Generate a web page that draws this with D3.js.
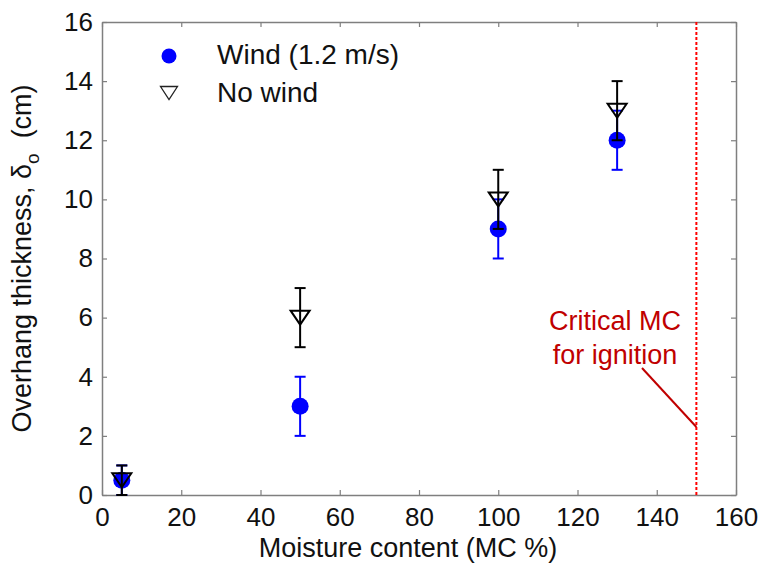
<!DOCTYPE html>
<html>
<head>
<meta charset="utf-8">
<script src="https://cdn.jsdelivr.net/npm/d3@7"></script>
<style>
  html, body { margin: 0; padding: 0; background: #fff; }
  svg { display: block; font-family: "Liberation Sans", Arial, sans-serif; }
</style>
</head>
<body>
<svg id="chart" width="761" height="568"></svg>
<script>
// Moisture content (%) at which each overhang thickness was measured
const moisture = [5, 50, 100, 130];

// Overhang thickness (cm) with wind at 1.2 m/s, and its error half-width
const windThickness = [0.5, 3, 9, 12];
const windError = [0.5, 1, 1, 1];

// Overhang thickness (cm) without wind, and its error half-width
const noWindThickness = [0.5, 6, 10, 13];
const noWindError = [0.5, 1, 1, 1];

// Critical moisture content for ignition
const criticalMC = 150;

const xTicks = [0, 20, 40, 60, 80, 100, 120, 140, 160];
const yTicks = [0, 2, 4, 6, 8, 10, 12, 14, 16];

const svg = d3.select("#chart");
const margin = { left: 102, top: 22, right: 25, bottom: 73 };
const W = 761, H = 568;
const x = d3.scaleLinear().domain([0, 160]).range([margin.left, W - margin.right]);
const y = d3.scaleLinear().domain([0, 16]).range([H - margin.bottom, margin.top]);

const axisColor = "#7f7f7f";
const tickFont = 26;

// Axes: ticks point inward on all four sides
const bottomAxis = d3.axisBottom(x).tickValues(xTicks).tickSizeInner(-5).tickSizeOuter(0).tickPadding(13);
const leftAxis = d3.axisLeft(y).tickValues(yTicks).tickSizeInner(-5).tickSizeOuter(0).tickPadding(9);
const topAxis = d3.axisTop(x).tickValues(xTicks).tickSizeInner(-5).tickSizeOuter(0).tickFormat("");
const rightAxis = d3.axisRight(y).tickValues(yTicks).tickSizeInner(-5).tickSizeOuter(0).tickFormat("");

function styleAxis(g) {
  g.selectAll("path.domain").attr("stroke", axisColor).attr("stroke-width", 1.5);
  g.selectAll(".tick line").attr("stroke", axisColor).attr("stroke-width", 1.2);
  g.selectAll(".tick text").attr("fill", "#111").style("font-size", tickFont + "px")
    .style("font-family", "'Liberation Sans', Arial, sans-serif");
}

svg.append("g").attr("transform", `translate(0,${y(0)})`).call(bottomAxis).call(styleAxis);
svg.append("g").attr("transform", `translate(${x(0)},0)`).call(leftAxis).call(styleAxis);
svg.append("g").attr("transform", `translate(0,${y(16)})`).call(topAxis).call(styleAxis);
svg.append("g").attr("transform", `translate(${x(160)},0)`).call(rightAxis).call(styleAxis);

// Critical moisture content marker
svg.append("line")
  .attr("x1", x(criticalMC)).attr("x2", x(criticalMC))
  .attr("y1", y(16)).attr("y2", y(0))
  .attr("stroke", "#ff0000").attr("stroke-width", 2)
  .attr("stroke-dasharray", "3,2");

const noteColor = "#c00000";
svg.append("line")
  .attr("x1", 642).attr("y1", 368)
  .attr("x2", x(criticalMC)).attr("y2", 427)
  .attr("stroke", noteColor).attr("stroke-width", 2);
const note = svg.append("text")
  .attr("fill", noteColor).attr("text-anchor", "middle")
  .style("font-size", "27px");
note.append("tspan").attr("x", 615).attr("y", 330).text("Critical MC");
note.append("tspan").attr("x", 615).attr("y", 364).text("for ignition");

// Error bars with caps
function errorBars(vals, errs, color) {
  const g = svg.append("g").attr("stroke", color).attr("stroke-width", 2).attr("fill", "none");
  const cap = 5.5;
  moisture.forEach((m, i) => {
    const cx = x(m), lo = y(vals[i] - errs[i]), hi = y(vals[i] + errs[i]);
    g.append("line").attr("x1", cx).attr("x2", cx).attr("y1", lo).attr("y2", hi);
    g.append("line").attr("x1", cx - cap).attr("x2", cx + cap).attr("y1", lo).attr("y2", lo);
    g.append("line").attr("x1", cx - cap).attr("x2", cx + cap).attr("y1", hi).attr("y2", hi);
  });
}

const triangle = (cx, cy, hw = 9.5, h = 14) =>
  `M${cx - hw},${cy - h / 2}L${cx + hw},${cy - h / 2}L${cx},${cy + h / 2}Z`;

// Wind series
errorBars(windThickness, windError, "#0000ff");
svg.append("g").selectAll("circle").data(moisture).join("circle")
  .attr("cx", d => x(d)).attr("cy", (d, i) => y(windThickness[i]))
  .attr("r", 8.5).attr("fill", "#0000ff");

// No-wind series
errorBars(noWindThickness, noWindError, "#000000");
svg.append("g").selectAll("path").data(moisture).join("path")
  .attr("d", (d, i) => triangle(x(d), y(noWindThickness[i])))
  .attr("fill", "none").attr("stroke", "#000").attr("stroke-width", 2);

// Legend
const legend = svg.append("g").style("font-size", "28px").attr("fill", "#111");
legend.append("circle").attr("cx", 169).attr("cy", 56).attr("r", 7.5).attr("fill", "#0000ff");
legend.append("path").attr("d", triangle(169, 93, 8.5, 13))
  .attr("fill", "none").attr("stroke", "#222").attr("stroke-width", 1.3);
legend.append("text").attr("x", 217).attr("y", 64).text("Wind (1.2 m/s)");
legend.append("text").attr("x", 217).attr("y", 102).text("No wind");

// Axis titles
svg.append("text")
  .attr("x", 408).attr("y", 557)
  .attr("text-anchor", "middle").attr("fill", "#111")
  .style("font-size", "27px")
  .text("Moisture content (MC %)");

const yLabel = svg.append("text")
  .attr("transform", `translate(31,${(y(0) + y(16)) / 2}) rotate(-90)`)
  .attr("text-anchor", "middle").attr("fill", "#111")
  .style("font-size", "27px");
yLabel.append("tspan").text("Overhang thickness, δ");
yLabel.append("tspan").attr("dy", 8).style("font-size", "19px").text("o");
yLabel.append("tspan").attr("dy", -8).attr("xml:space", "preserve").text("  (cm)");
</script>
</body>
</html>
